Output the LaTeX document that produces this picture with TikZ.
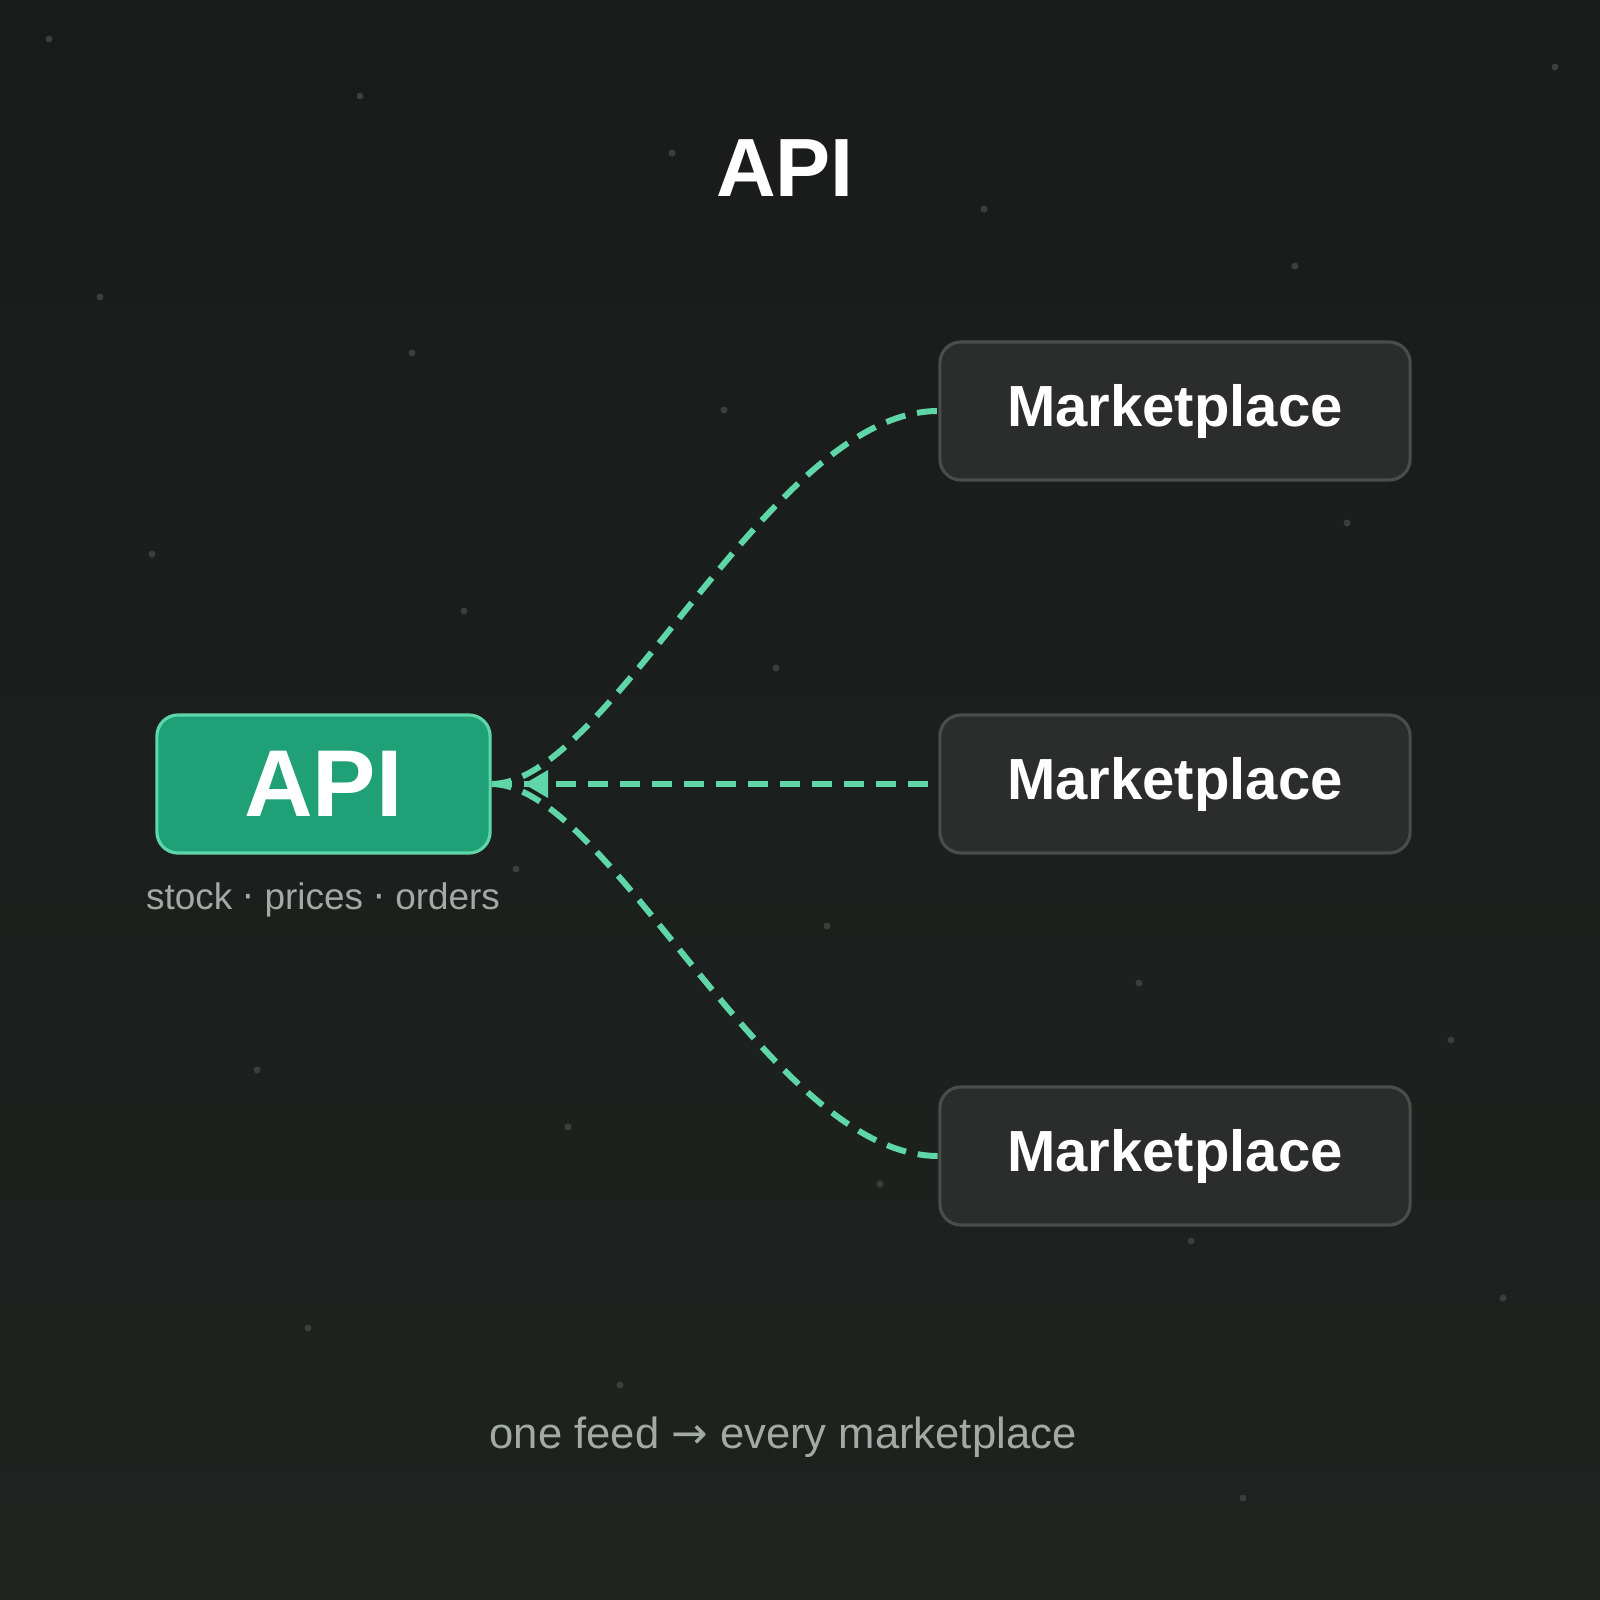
\documentclass[tikz,border=0pt]{standalone}
\usepackage{fontspec}
\setmainfont{Liberation Sans}
\newfontfamily\djv{DejaVu Sans}
\usetikzlibrary{arrows.meta}
\definecolor{bgA}{HTML}{181B1A}
\definecolor{bgB}{HTML}{1E2320}
\definecolor{green}{HTML}{1FA077}
\definecolor{lgreen}{HTML}{5FD6A8}
\definecolor{mfill}{HTML}{2A2D2B}
\definecolor{mline}{HTML}{4A4E4B}
\definecolor{gtext}{HTML}{A3AAA6}
\definecolor{dotc}{HTML}{3A3F3C}
\tikzset{
 mk/.style={draw=mline,line width=0.9pt,fill=mfill,rounded corners=6pt,minimum width=4.7cm,minimum height=1.38cm,text=white,font=\bfseries\fontsize{16.5}{20}\selectfont},
 link/.style={draw=lgreen,line width=1.7pt,dash pattern=on 5.7pt off 3.4pt},
 dot/.style={fill=dotc,circle,inner sep=0pt,minimum size=0.07cm}
}
\begin{document}
\begin{tikzpicture}[x=0.01cm,y=-0.01cm]
\useasboundingbox (0,0) rectangle (1600,1600);
\shade[top color=bgA,bottom color=bgB] (0,0) rectangle (1600,1600);
\foreach \p/\q in {49/39,360/96,1555/67,672/153,984/209,100/297,1295/266,412/353,724/410,152/554,1347/523,464/611,776/668,516/869,827/926,1139/983,1451/1040,257/1070,568/1127,880/1184,1191/1241,1503/1298,308/1328,620/1385,1243/1498}
  \node[dot] at (\p,\q) {};
\node[text=white,font=\bfseries\fontsize{23.5}{28}\selectfont] (title) at (785,168) {API};
\node[draw=lgreen,line width=0.9pt,fill=green,rounded corners=6pt,minimum width=3.33cm,minimum height=1.38cm,text=white,font=\bfseries\fontsize{27}{32}\selectfont] (api) at (323.5,784) {API};
\node[text=gtext,font=\fontsize{10.5}{12}\selectfont] (sub) at (323,900) {stock {\djv·} prices {\djv·} orders};
\node[mk] (m1) at (1175,411) {Marketplace};
\node[mk] (m2) at (1175,784) {Marketplace};
\node[mk] (m3) at (1175,1156) {Marketplace};
\draw[link] (api.east) .. controls (610,783) and (770,411) .. (m1.west);
\draw[link] (api.east) -- (m2.west);
\draw[link] (api.east) .. controls (610,785) and (770,1156) .. (m3.west);
\fill[lgreen] (524,784) -- (548,770) -- (548,798) -- cycle;
\node[text=gtext,font=\fontsize{12.4}{14}\selectfont] (foot) at (783,1437) {one feed {\djv→} every marketplace};
\end{tikzpicture}
\end{document}
